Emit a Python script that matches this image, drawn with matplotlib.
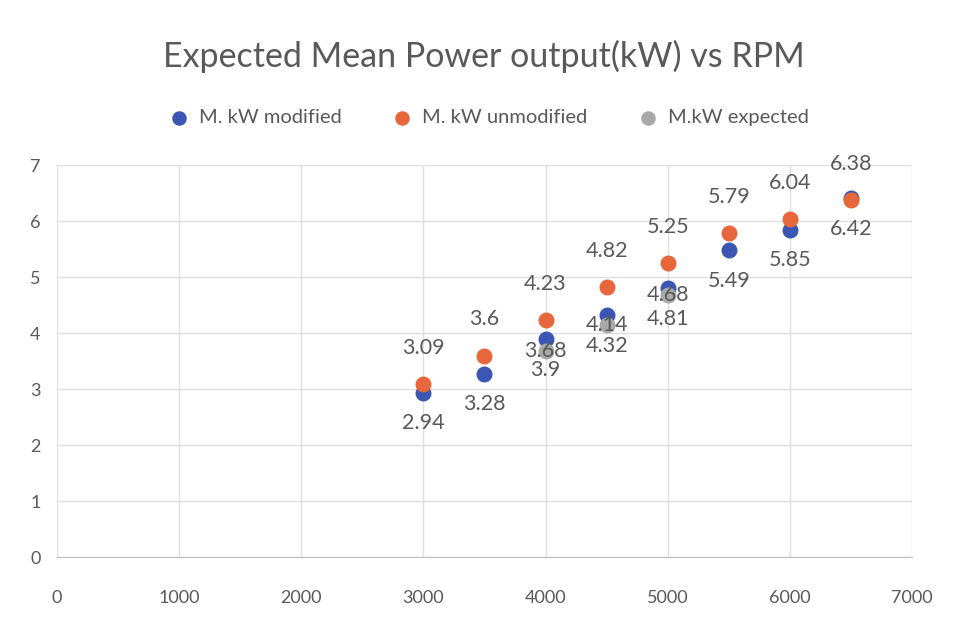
import matplotlib.pyplot as plt

plt.rcParams['font.family'] = ['Lato', 'DejaVu Sans']

rpm = [3000, 3500, 4000, 4500, 5000, 5500, 6000, 6500]
kw_modified = [2.94, 3.28, 3.9, 4.32, 4.81, 5.49, 5.85, 6.42]
kw_unmodified = [3.09, 3.6, 4.23, 4.82, 5.25, 5.79, 6.04, 6.38]
rpm_expected = [4000, 4500, 5000]
kw_expected = [3.68, 4.14, 4.68]

azul = '#3b56b3'
laranja = '#e8663b'
cinza = '#a9a9a9'
texto = '#595959'

fig = plt.figure(figsize=(9.68, 6.26), dpi=100)
ax = fig.add_axes([0.059, 0.110, 0.883, 0.626])

ax.scatter(rpm, kw_modified, s=110, color=azul, label='M. kW modified', zorder=3)
ax.scatter(rpm, kw_unmodified, s=110, color=laranja, label='M. kW unmodified', zorder=3)
ax.scatter(rpm_expected, kw_expected, s=110, color=cinza, label='M.kW expected', zorder=3)

# rótulos de dados
for x, y in zip(rpm, kw_unmodified):
    ax.annotate(f'{y:g}', (x, y), xytext=(0, 19), textcoords='offset points',
                ha='center', va='bottom', fontsize=15.5, color=texto, zorder=5)
for x, y in zip(rpm, kw_modified):
    ax.annotate(f'{y:g}', (x, y), xytext=(0, -15), textcoords='offset points',
                ha='center', va='top', fontsize=15.5, color=texto, zorder=5)
for x, y in zip(rpm_expected, kw_expected):
    ax.annotate(f'{y:g}', (x, y), xytext=(0, 0), textcoords='offset points',
                ha='center', va='center', fontsize=15.5, color=texto, zorder=5)

ax.set_xlim(0, 7000)
ax.set_ylim(0, 7)
ax.set_xticks(range(0, 7001, 1000))
ax.set_yticks(range(0, 8))
ax.grid(True, color='#e0e0e0', linewidth=1)
ax.set_axisbelow(True)
for lado in ['top', 'right', 'left']:
    ax.spines[lado].set_visible(False)
ax.spines['bottom'].set_color('#bfbfbf')
ax.tick_params(length=0, labelsize=13, colors=texto)
ax.tick_params(axis='x', pad=24)
ax.tick_params(axis='y', pad=12)

fig.text(0.5, 0.91, 'Expected Mean Power output(kW) vs RPM', ha='center', va='center',
         fontsize=24.5, color=texto)
fig.legend(loc='center', bbox_to_anchor=(0.5, 0.812), ncol=3, frameon=False,
           fontsize=14.5, handletextpad=0.0, columnspacing=2.0, markerscale=0.9,
           labelcolor=texto)

plt.savefig('out.png')
